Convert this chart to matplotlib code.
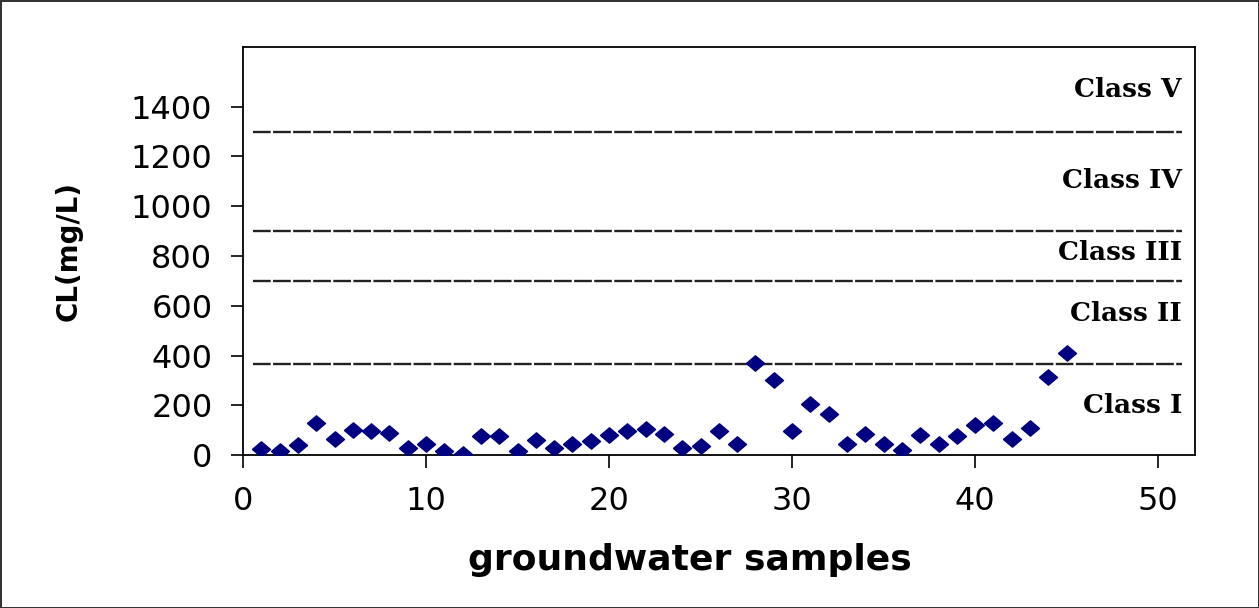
import numpy as np
import matplotlib
matplotlib.use("Agg")
import matplotlib.pyplot as plt

# chloride concentration per groundwater sample (mg/L)
samples = list(range(1, 46))
cl = [25, 15, 40, 130, 65, 100, 95, 88, 30, 45,
      15, 5, 75, 75, 15, 60, 30, 45, 55, 80,
      95, 105, 85, 30, 35, 95, 45, 370, 300, 95,
      205, 165, 45, 85, 45, 20, 80, 45, 75, 120,
      130, 65, 110, 313, 410]

# class boundaries and labels
limits = [365, 700, 900, 1300]
class_names = ["Class I", "Class II", "Class III", "Class IV", "Class V"]
class_label_y = [200, 570, 815, 1105, 1470]

xticks = [0, 10, 20, 30, 40, 50]
yticks = [0, 200, 400, 600, 800, 1000, 1200, 1400]

fig = plt.figure(figsize=(12.59, 6.08), dpi=100)
fig.patch.set_edgecolor("#333333")
fig.patch.set_linewidth(2)
ax = fig.add_axes([0.193, 0.2516, 0.756, 0.6711])

diamond = [(-1, 0), (0, 0.85), (1, 0), (0, -0.85), (-1, 0)]
ax.plot(samples, cl, linestyle="none", marker=diamond, markersize=13,
        color="#000080", zorder=3)

for lim in limits:
    ax.plot([0.55, 51.3], [lim, lim], color="#222222", lw=1.7,
            linestyle=(0, (7.5, 1)), zorder=2)

for name, yy in zip(class_names, class_label_y):
    ax.text(51.3, yy, name, ha="right", va="center", family="DejaVu Serif",
            fontweight="bold", fontsize=19, color="black")

ax.set_xlim(0, 52)
ax.set_ylim(0, 1640)
ax.set_xticks(xticks)
ax.set_yticks(yticks)
ax.tick_params(direction="out", length=9, width=1.2, pad=13,
               labelsize=23, colors="black")
for lab in ax.get_xticklabels() + ax.get_yticklabels():
    lab.set_family("DejaVu Sans")
for s in ax.spines.values():
    s.set_linewidth(1.3)
    s.set_color("black")

ax.set_ylabel("CL(mg/L)", fontsize=20, fontweight="bold", family="DejaVu Sans")
ax.set_xlabel("groundwater samples", fontsize=26, fontweight="bold", family="DejaVu Sans")
ax.yaxis.set_label_coords(-0.168, 0.5)
ax.xaxis.set_label_coords(0.47, -0.215)

fig.savefig("out.png", dpi=100, edgecolor=fig.get_edgecolor())
